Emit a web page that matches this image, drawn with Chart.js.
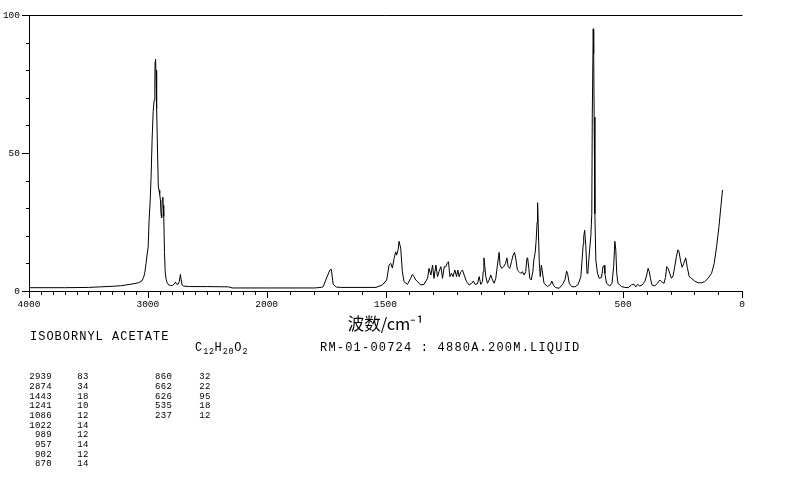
<!DOCTYPE html>
<html>
<head>
<meta charset="utf-8">
<script src="https://cdn.jsdelivr.net/npm/chart.js@4/dist/chart.umd.min.js"></script>
<style>
  html, body { margin: 0; padding: 0; background: #fff; }
  #wrap { position: relative; width: 794px; height: 482px; overflow: hidden; }
  #c { position: absolute; left: 0; top: 0; }
  .txt { position: absolute; font-family: "Liberation Mono", "DejaVu Sans Mono", monospace; color: #000; white-space: pre; }
  .big { font-size: 12px; line-height: 12px; letter-spacing: 1.0px; }
  .wide { letter-spacing: 1.2px; }
  .big sub { font-size: 8.5px; vertical-align: -3px; line-height: 0; letter-spacing: 0.6px; }
  .tbl { font-size: 9px; line-height: 9px; letter-spacing: 0.3px; }
</style>
</head>
<body>
<div id="wrap">
  <canvas id="c" width="794" height="482"></canvas>
  <div id="overlay"></div>
</div>
<script>
// ---- data ----
const wavenumbers = [
  4000, 3700, 3500, 3400, 3300, 3230, 3150, 3100, 3080, 3050,
  3035, 3025, 3015, 3007, 2997, 2990, 2980, 2972, 2964, 2955,
  2947, 2941, 2939, 2935, 2931, 2928, 2924, 2918, 2912, 2906,
  2900, 2894, 2889, 2884, 2879, 2874, 2870, 2866, 2860, 2854,
  2847, 2838, 2824, 2810, 2795, 2780, 2768, 2758, 2745, 2735,
  2726, 2720, 2712, 2700, 2650, 2500, 2320, 2290, 2000, 1800,
  1770, 1762, 1748, 1734, 1728, 1720, 1706, 1690, 1540, 1513,
  1495, 1485, 1478, 1471, 1464, 1457, 1453, 1447, 1443, 1436,
  1429, 1422, 1408, 1394, 1387, 1380, 1373, 1365, 1352, 1338,
  1323, 1317, 1309, 1302, 1296, 1288, 1281, 1275, 1267, 1260,
  1253, 1246, 1241, 1235, 1229, 1222, 1216, 1208, 1201, 1196,
  1190, 1183, 1176, 1169, 1159, 1148, 1137, 1130, 1123, 1113,
  1106, 1099, 1092, 1089, 1086, 1082, 1078, 1071, 1064, 1057,
  1050, 1043, 1036, 1029, 1022, 1018, 1011, 1003, 995, 989,
  984, 977, 970, 963, 957, 952, 945, 938, 931, 924,
  917, 910, 905, 902, 897, 893, 887, 880, 876, 870,
  866, 862, 860, 857, 853, 849, 844, 838, 833, 818,
  806, 800, 793, 783, 769, 755, 745, 738, 734, 727,
  717, 703, 690, 678, 673, 668, 666, 662, 657, 652,
  648, 641, 636, 632, 630, 626, 624, 622, 619, 615,
  608, 601, 591, 585, 580, 577, 570, 556, 547, 540,
  535, 531, 527, 522, 507, 493, 479, 465, 455, 447,
  439, 430, 420, 409, 401, 395, 390, 385, 379, 367,
  356, 346, 339, 328, 322, 317, 311, 304, 297, 290,
  283, 276, 270, 265, 259, 252, 245, 237, 230, 222,
  213, 199, 185, 170, 157, 143, 128, 117, 107, 97,
  89, 82
];
const intensities = [
  1.2, 1.2, 1.3, 1.5, 1.7, 1.9, 2.4, 2.8, 3.0, 3.6,
  5.0, 6.8, 10, 13, 16, 25, 33, 42, 55, 65,
  69, 76, 83, 84, 78, 80, 66, 50, 38, 36.5,
  35, 33, 28, 26.5, 33, 34, 31, 27, 14, 7,
  4.5, 3, 2.2, 2.0, 2.0, 2.4, 3.2, 2.5, 2.5, 3.5,
  6.0, 4.2, 2.2, 1.8, 1.6, 1.6, 1.5, 1.1, 1.1, 1.1,
  1.3, 1.6, 4.7, 7.6, 7.9, 2.4, 1.4, 1.3, 1.3, 2.2,
  4, 9.4, 10, 8.3, 11.8, 14.2, 13, 14.9, 18, 15.5,
  7, 3.4, 2.4, 4.6, 6, 5.2, 4, 3.4, 2.2, 2.4,
  4.6, 8.2, 5.8, 9.4, 4.6, 9.4, 5.2, 7, 8.8, 4.6,
  8.8, 8.8, 10, 10.6, 5.2, 6.4, 5.2, 7.6, 5.2, 7.6,
  5.2, 7, 7.6, 5.8, 3.4, 2.2, 2.8, 3.6, 2.4, 2.6,
  5.2, 2.4, 3.4, 7, 12, 8.8, 5.2, 2.8, 4, 5.8,
  4, 2.8, 4.6, 9.4, 14, 9.4, 8.2, 8.8, 10, 12,
  8.8, 8.2, 10.6, 13, 14, 11.8, 7.6, 7, 6.4, 7,
  5.8, 7, 11.8, 12, 8.2, 4.6, 4, 7, 11.2, 14,
  18.5, 25, 32, 22.7, 10.6, 5.2, 9.4, 5.8, 2.8, 1.6,
  2.4, 3.6, 2, 1.2, 1, 2.4, 4, 7.2, 6.4, 2.8,
  1.6, 1.5, 2.3, 5.2, 11.2, 17, 19.7, 22, 16, 6.4,
  7.6, 14.9, 20, 28, 63, 95, 86, 63, 28, 11.2,
  6.4, 4.6, 4.9, 8.8, 9.3, 6.4, 2.8, 1.8, 2.8, 8.8,
  18, 14.9, 6.4, 2.8, 1.6, 1.3, 1.2, 2.2, 2.5, 1.5,
  2.4, 1.8, 2.2, 3.4, 5.8, 8.2, 7, 4.5, 2.2, 1.8,
  2.8, 4, 3.4, 2.8, 4.9, 8.8, 8.2, 6.4, 4.6, 5.5,
  8.8, 12.4, 14.9, 14.2, 11.2, 8.6, 10, 12, 8.5, 5.2,
  4.6, 3.6, 3, 3, 3.4, 4.6, 6.4, 10, 16, 23.3,
  30.5, 36.6
];
const xTickLabels = [4000, 3000, 2000, 1500, 500, 0];
const yTickLabels = [0, 50, 100];
const xAxisTitle = '波数/cm⁻¹';
const compoundName = 'ISOBORNYL ACETATE';
const formulaParts = [['C', '12'], ['H', '20'], ['O', '2']];
const sampleInfo = 'RM-01-00724 : 4880A.200M.LIQUID';
const peakWavenumbers = [2939, 2874, 1443, 1241, 1086, 1022, 989, 957, 902, 870, 860, 662, 626, 535, 237];
const peakIntensities = [83, 34, 18, 10, 12, 14, 12, 14, 12, 14, 32, 22, 95, 18, 12];

// scale above 2000 cm-1 is compressed by a factor of two
const toAxis = w => (w <= 2000 ? w : 2000 + (w - 2000) / 2);
const fromAxis = u => (u <= 2000 ? u : 2000 + (u - 2000) * 2);

const points = wavenumbers.map((w, i) => ({ x: toAxis(w), y: intensities[i] }));

const tickFont = { family: 'Liberation Mono', size: 9.5 };

const extraTicks = {
  id: 'extraTicks',
  afterDraw(chart) {
    const { ctx, scales: { x, y } } = chart;
    ctx.save();
    ctx.strokeStyle = '#000';
    ctx.lineWidth = 1;
    ctx.beginPath();
    const topY = Math.round(y.getPixelForValue(100)) + 0.5;
    ctx.moveTo(x.left, topY);
    ctx.lineTo(x.right + 0.5, topY);
    const bottomY = Math.round(y.getPixelForValue(0));
    for (let w = 0; w <= 4000; w += 100) {
      const px = Math.round(x.getPixelForValue(toAxis(w))) + 0.5;
      const len = xTickLabels.includes(w) ? 7 : 4;
      ctx.moveTo(px, bottomY);
      ctx.lineTo(px, bottomY + len);
    }
    const leftX = Math.round(x.left);
    for (let v = 0; v <= 100; v += 10) {
      const py = Math.round(y.getPixelForValue(v)) + 0.5;
      const len = yTickLabels.includes(v) ? 7 : 3;
      ctx.moveTo(leftX, py);
      ctx.lineTo(leftX - len, py);
    }
    ctx.stroke();
    ctx.restore();
  }
};

new Chart(document.getElementById('c'), {
  type: 'line',
  data: {
    datasets: [{
      data: points,
      borderColor: '#000',
      borderWidth: 1,
      pointRadius: 0,
      tension: 0,
      fill: false
    }]
  },
  options: {
    responsive: false,
    devicePixelRatio: 1,
    animation: false,
    events: [],
    layout: { padding: { top: 15, right: 52, bottom: 148, left: 0 } },
    plugins: { legend: { display: false }, tooltip: { enabled: false } },
    scales: {
      x: {
        type: 'linear',
        min: 0,
        max: 3000,
        reverse: true,
        grid: { display: false, drawTicks: false },
        border: { display: true, color: '#000', width: 1 },
        afterBuildTicks: axis => { axis.ticks = xTickLabels.map(w => ({ value: toAxis(w) })); },
        afterFit: s => { s.height = 43; },
        ticks: {
          autoSkip: false,
          maxRotation: 0,
          padding: 8,
          color: '#000',
          font: tickFont,
          callback: v => String(Math.round(fromAxis(v)))
        },
        title: {
          display: true,
          text: xAxisTitle,
          color: '#000',
          padding: { top: 0, bottom: 0 },
          font: { family: 'Noto Sans CJK SC', size: 16.5 }
        }
      },
      y: {
        type: 'linear',
        min: 0,
        max: 100,
        grid: { display: false, drawTicks: false },
        border: { display: true, color: '#000', width: 1 },
        afterBuildTicks: axis => { axis.ticks = yTickLabels.map(v => ({ value: v })); },
        afterFit: s => { s.width = 29; },
        ticks: {
          padding: 9,
          color: '#000',
          font: tickFont
        }
      }
    }
  },
  plugins: [extraTicks]
});

// ---- text block under the chart ----
const ov = document.getElementById('overlay');
function addText(cls, left, top, html) {
  const d = document.createElement('div');
  d.className = 'txt ' + cls;
  d.style.left = left + 'px';
  d.style.top = top + 'px';
  d.innerHTML = html;
  ov.appendChild(d);
  return d;
}
addText('big', 30, 331, compoundName);
addText('big', 195, 342, formulaParts.map(p => p[0] + '<sub>' + p[1] + '</sub>').join(''));
addText('big wide', 320, 342, sampleInfo);

const rowH = 9.67;
peakWavenumbers.forEach((w, i) => {
  const col = i < 10 ? 0 : 1;
  const row = i < 10 ? i : i - 10;
  const top = 373.2 + row * rowH;
  if (col === 0) {
    const d = addText('tbl', 0, top, String(w));
    d.style.width = '52px';
    d.style.textAlign = 'right';
    addText('tbl', 77.3, top, String(peakIntensities[i]));
  } else {
    addText('tbl', 155, top, String(w));
    addText('tbl', 199.3, top, String(peakIntensities[i]));
  }
});
</script>
</body>
</html>
